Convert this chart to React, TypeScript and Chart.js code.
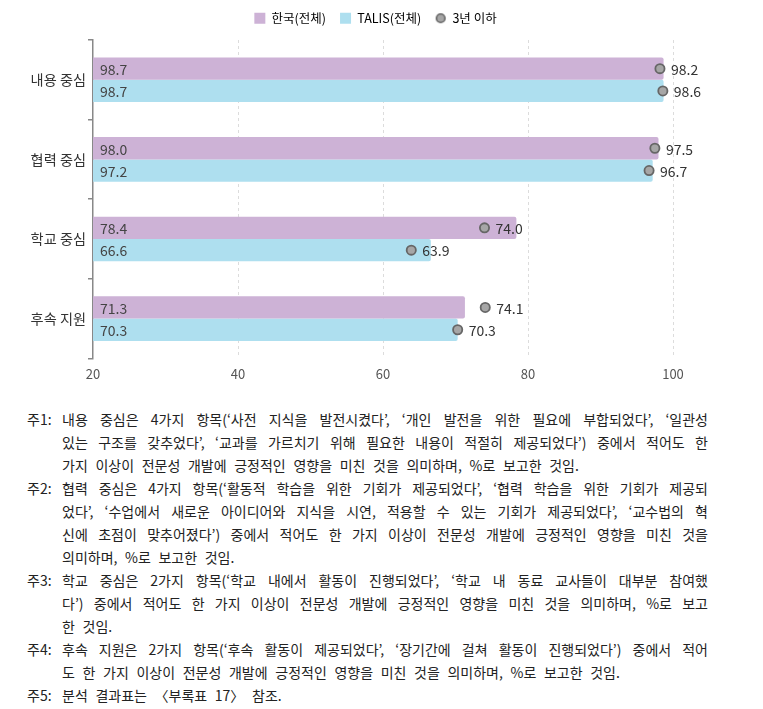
import React, { useEffect, useRef } from 'react';
import { Chart, registerables } from 'chart.js';

Chart.register(...registerables);

const categories = ['내용 중심', '협력 중심', '학교 중심', '후속 지원'];
const koreaAll = [98.7, 98.0, 78.4, 71.3];
const talisAll = [98.7, 97.2, 66.6, 70.3];
const koreaNovice = [98.2, 97.5, 74.0, 74.1];
const talisNovice = [98.6, 96.7, 63.9, 70.3];
const seriesNames = ['한국(전체)', 'TALIS(전체)', '3년 이하'];
const xMin = 20;
const xMax = 100;
const xStep = 20;

const PURPLE = 'rgb(205,178,214)';
const CYAN = 'rgb(174,223,239)';
const DOT_FILL = '#a6a6a6';
const DOT_STROKE = '#666666';
const FONT = '"Noto Sans CJK KR", "Noto Sans", sans-serif';

const notes: { tag: string; lines: string[] }[] = [
  {
    tag: '주1:',
    lines: [
      '내용 중심은 4가지 항목(‘사전 지식을 발전시켰다’, ‘개인 발전을 위한 필요에 부합되었다’, ‘일관성',
      '있는 구조를 갖추었다’, ‘교과를 가르치기 위해 필요한 내용이 적절히 제공되었다’) 중에서 적어도 한',
      '가지 이상이 전문성 개발에 긍정적인 영향을 미친 것을 의미하며, %로 보고한 것임.',
    ],
  },
  {
    tag: '주2:',
    lines: [
      '협력 중심은 4가지 항목(‘활동적 학습을 위한 기회가 제공되었다’, ‘협력 학습을 위한 기회가 제공되',
      '었다’, ‘수업에서 새로운 아이디어와 지식을 시연, 적용할 수 있는 기회가 제공되었다’, ‘교수법의 혁',
      '신에 초점이 맞추어졌다’) 중에서 적어도 한 가지 이상이 전문성 개발에 긍정적인 영향을 미친 것을',
      '의미하며, %로 보고한 것임.',
    ],
  },
  {
    tag: '주3:',
    lines: [
      '학교 중심은 2가지 항목(‘학교 내에서 활동이 진행되었다’, ‘학교 내 동료 교사들이 대부분 참여했',
      '다’) 중에서 적어도 한 가지 이상이 전문성 개발에 긍정적인 영향을 미친 것을 의미하며, %로 보고',
      '한 것임.',
    ],
  },
  {
    tag: '주4:',
    lines: [
      '후속 지원은 2가지 항목(‘후속 활동이 제공되었다’, ‘장기간에 걸쳐 활동이 진행되었다’) 중에서 적어',
      '도 한 가지 이상이 전문성 개발에 긍정적인 영향을 미친 것을 의미하며, %로 보고한 것임.',
    ],
  },
  {
    tag: '주5:',
    lines: ['분석 결과표는 〈부록표 17〉 참조.'],
  },
];

function makeDotImage(): HTMLCanvasElement {
  const c = document.createElement('canvas');
  c.width = 12;
  c.height = 12;
  const g = c.getContext('2d')!;
  g.beginPath();
  g.arc(6, 6, 4.3, 0, Math.PI * 2);
  g.fillStyle = DOT_FILL;
  g.fill();
  g.lineWidth = 1.6;
  g.strokeStyle = DOT_STROKE;
  g.stroke();
  return c;
}

const legendHeightPlugin = {
  id: 'legendHeight',
  beforeInit(chart: any) {
    const legend = chart.legend;
    if (!legend) return;
    const origFit = legend.fit;
    legend.fit = function () {
      origFit.call(this);
      this.height = 42;
    };
  },
};

const dotPlugin = {
  id: 'dotPlugin',
  afterDatasetsDraw(chart: any) {
    const ctx = chart.ctx;
    const xs = chart.scales.x;
    const allVals = [koreaAll, talisAll];
    const novice = [koreaNovice, talisNovice];
    ctx.save();
    for (let di = 0; di < 2; di++) {
      const meta = chart.getDatasetMeta(di);
      meta.data.forEach((bar: any, j: number) => {
        ctx.font = `14px ${FONT}`;
        ctx.textBaseline = 'middle';
        ctx.textAlign = 'left';
        ctx.fillStyle = '#444';
        ctx.fillText(allVals[di][j].toFixed(1), chart.chartArea.left + 7, bar.y + 1);
        const px = xs.getPixelForValue(novice[di][j]);
        ctx.beginPath();
        ctx.arc(px, bar.y, 4.6, 0, Math.PI * 2);
        ctx.fillStyle = DOT_FILL;
        ctx.fill();
        ctx.lineWidth = 1.8;
        ctx.strokeStyle = DOT_STROKE;
        ctx.stroke();
        ctx.fillStyle = '#333';
        ctx.fillText(novice[di][j].toFixed(1), px + 11, bar.y + 1);
      });
    }
    ctx.restore();
  },
};

function ChartView() {
  const ref = useRef<HTMLCanvasElement | null>(null);
  useEffect(() => {
    if (!ref.current) return;
    const dotImg = makeDotImage();
    const chart = new Chart(ref.current, {
      type: 'bar',
      data: {
        labels: categories,
        datasets: [
          {
            label: seriesNames[0],
            data: koreaAll,
            backgroundColor: PURPLE,
            borderRadius: 2,
            borderSkipped: 'start',
            categoryPercentage: 0.56,
            barPercentage: 1.0,
          },
          {
            label: seriesNames[1],
            data: talisAll,
            backgroundColor: CYAN,
            borderRadius: 2,
            borderSkipped: 'start',
            categoryPercentage: 0.56,
            barPercentage: 1.0,
          },
        ],
      },
      options: {
        indexAxis: 'y',
        animation: false,
        responsive: false,
        maintainAspectRatio: false,
        layout: { padding: { left: 0, right: 12, top: 0, bottom: 0 } },
        scales: {
          x: {
            min: xMin,
            max: xMax,
            ticks: { stepSize: xStep, color: '#555', font: { family: FONT, size: 13 }, padding: 8 },
            grid: {
              color: (c: any) => (c.tick && c.tick.value === xMin ? 'rgba(0,0,0,0)' : '#dcdcdc'),
              drawTicks: false,
            },
            border: { display: false, dash: [3, 3] },
          },
          y: {
            afterFit: (s: any) => {
              s.width = 85;
            },
            ticks: { color: '#333', font: { family: FONT, size: 14.2 }, padding: 2 },
            grid: { offset: true, drawOnChartArea: false, tickLength: 5, color: '#888', lineWidth: 1.5 },
            border: { display: true, color: '#888', width: 1.5 },
          },
          spacer: {
            type: 'linear',
            position: 'right',
            display: true,
            grid: { display: false, drawTicks: false },
            ticks: { display: false },
            border: { display: false },
            afterFit: (s: any) => {
              s.width = 70;
            },
          },
        },
        plugins: {
          tooltip: { enabled: false },
          legend: {
            position: 'top',
            labels: {
              font: { family: FONT, size: 12.5 },
              color: '#444',
              usePointStyle: true,
              boxWidth: 11,
              boxHeight: 11,
              padding: 14,
              generateLabels: () => [
                { text: seriesNames[0], fillStyle: PURPLE, strokeStyle: PURPLE, lineWidth: 0, pointStyle: 'rect', hidden: false, datasetIndex: 0 },
                { text: seriesNames[1], fillStyle: CYAN, strokeStyle: CYAN, lineWidth: 0, pointStyle: 'rect', hidden: false, datasetIndex: 1 },
                { text: seriesNames[2], fillStyle: DOT_FILL, strokeStyle: DOT_STROKE, lineWidth: 0, pointStyle: dotImg, hidden: false },
              ],
            },
          },
        },
      },
      plugins: [dotPlugin, legendHeightPlugin],
    } as any);
    return () => chart.destroy();
  }, []);
  return <canvas ref={ref} width={747} height={392} style={{ display: 'block', marginTop: -10 }} />;
}

export default function App() {
  return (
    <div style={{ fontFamily: FONT, color: '#222' }}>
      <ChartView />
      <div style={{ marginTop: 18, fontSize: 14, lineHeight: '23px', width: 700 }}>
        {notes.map((n, i) => (
          <div key={i} style={{ display: 'flex' }}>
            <div style={{ width: 35, paddingLeft: 19, flexShrink: 0 }}>{n.tag}</div>
            <div style={{ width: 663 }}>
              {n.lines.map((l, k) => (
                <div
                  key={k}
                  style={{
                    textAlign: 'justify',
                    textAlignLast: k < n.lines.length - 1 ? 'justify' : 'left',
                    whiteSpace: 'nowrap',
                    wordSpacing: '4.5px',
                  }}
                >
                  {l}
                </div>
              ))}
            </div>
          </div>
        ))}
      </div>
    </div>
  );
}
